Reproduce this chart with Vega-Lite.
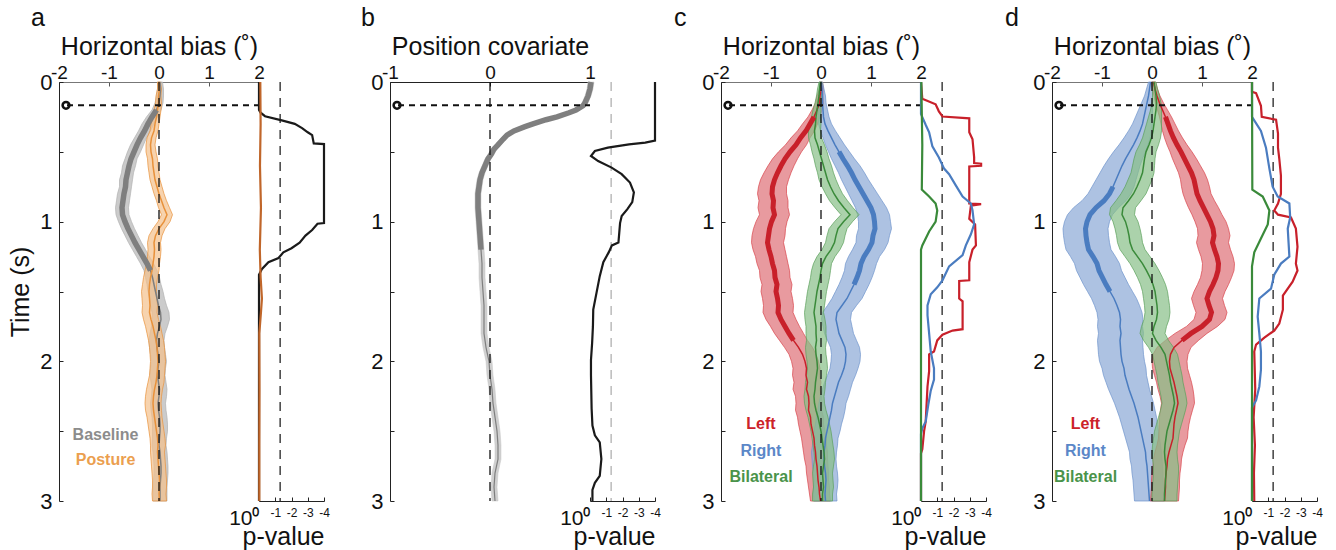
{
"$schema": "https://vega.github.io/schema/vega-lite/v6.json",
"padding": {"left": 8, "top": 6, "right": 5, "bottom": 2},
"spacing": 66,
"bounds": "flush",
"resolve": {"scale": {"x": "independent", "y": "independent"}},
"config": {
  "view": {"stroke": null},
  "font": "Liberation Sans",
  "legend": {"disable": true},
  "axis": {"grid": false, "labelFlush": false, "labelOverlap": false, "labelFont": "Liberation Sans", "titleFont": "Liberation Sans", "labelColor": "#111", "titleColor": "#111", "titleFontWeight": "normal"},
  "title": {"font": "Liberation Sans", "fontWeight": "normal", "fontSize": 25, "color": "#111"},
  "text": {"font": "Liberation Sans"}
},
"datasets": {
"main": [
{"p":"a","s":"B","t":0,"m":0.02,"l":-0.03,"h":0.07,"k":0},
{"p":"a","s":"B","t":0.05,"m":0.03,"l":-0.03,"h":0.09,"k":0},
{"p":"a","s":"B","t":0.1,"m":0.02,"l":-0.05,"h":0.09,"k":0},
{"p":"a","s":"B","t":0.15,"m":0,"l":-0.08,"h":0.08,"k":0},
{"p":"a","s":"B","t":0.2,"m":-0.05,"l":-0.14,"h":0.04,"k":1},
{"p":"a","s":"B","t":0.25,"m":-0.14,"l":-0.25,"h":-0.03,"k":1},
{"p":"a","s":"B","t":0.3,"m":-0.22,"l":-0.34,"h":-0.1,"k":1},
{"p":"a","s":"B","t":0.35,"m":-0.29,"l":-0.41,"h":-0.17,"k":1},
{"p":"a","s":"B","t":0.4,"m":-0.37,"l":-0.49,"h":-0.25,"k":1},
{"p":"a","s":"B","t":0.45,"m":-0.44,"l":-0.57,"h":-0.31,"k":1},
{"p":"a","s":"B","t":0.5,"m":-0.5,"l":-0.63,"h":-0.37,"k":1},
{"p":"a","s":"B","t":0.55,"m":-0.56,"l":-0.68,"h":-0.44,"k":1},
{"p":"a","s":"B","t":0.6,"m":-0.6,"l":-0.73,"h":-0.47,"k":1},
{"p":"a","s":"B","t":0.65,"m":-0.63,"l":-0.75,"h":-0.51,"k":1},
{"p":"a","s":"B","t":0.7,"m":-0.66,"l":-0.79,"h":-0.53,"k":1},
{"p":"a","s":"B","t":0.75,"m":-0.67,"l":-0.79,"h":-0.55,"k":1},
{"p":"a","s":"B","t":0.8,"m":-0.7,"l":-0.83,"h":-0.57,"k":1},
{"p":"a","s":"B","t":0.85,"m":-0.72,"l":-0.85,"h":-0.59,"k":1},
{"p":"a","s":"B","t":0.9,"m":-0.74,"l":-0.87,"h":-0.61,"k":1},
{"p":"a","s":"B","t":0.95,"m":-0.73,"l":-0.86,"h":-0.6,"k":1},
{"p":"a","s":"B","t":1,"m":-0.68,"l":-0.81,"h":-0.55,"k":1},
{"p":"a","s":"B","t":1.05,"m":-0.62,"l":-0.75,"h":-0.49,"k":1},
{"p":"a","s":"B","t":1.1,"m":-0.55,"l":-0.68,"h":-0.42,"k":1},
{"p":"a","s":"B","t":1.15,"m":-0.48,"l":-0.61,"h":-0.35,"k":1},
{"p":"a","s":"B","t":1.2,"m":-0.4,"l":-0.53,"h":-0.27,"k":1},
{"p":"a","s":"B","t":1.25,"m":-0.32,"l":-0.45,"h":-0.19,"k":1},
{"p":"a","s":"B","t":1.3,"m":-0.24,"l":-0.37,"h":-0.11,"k":1},
{"p":"a","s":"B","t":1.35,"m":-0.17,"l":-0.3,"h":-0.04,"k":1},
{"p":"a","s":"B","t":1.4,"m":-0.13,"l":-0.27,"h":0.01,"k":0},
{"p":"a","s":"B","t":1.45,"m":-0.1,"l":-0.24,"h":0.04,"k":0},
{"p":"a","s":"B","t":1.5,"m":-0.07,"l":-0.22,"h":0.08,"k":0},
{"p":"a","s":"B","t":1.55,"m":-0.04,"l":-0.19,"h":0.11,"k":0},
{"p":"a","s":"B","t":1.6,"m":-0.01,"l":-0.17,"h":0.15,"k":0},
{"p":"a","s":"B","t":1.65,"m":0.03,"l":-0.14,"h":0.2,"k":0},
{"p":"a","s":"B","t":1.7,"m":0.04,"l":-0.13,"h":0.21,"k":0},
{"p":"a","s":"B","t":1.75,"m":0.01,"l":-0.15,"h":0.17,"k":0},
{"p":"a","s":"B","t":1.8,"m":-0.03,"l":-0.18,"h":0.12,"k":0},
{"p":"a","s":"B","t":1.85,"m":-0.05,"l":-0.2,"h":0.1,"k":0},
{"p":"a","s":"B","t":1.9,"m":-0.04,"l":-0.19,"h":0.11,"k":0},
{"p":"a","s":"B","t":1.95,"m":-0.02,"l":-0.17,"h":0.13,"k":0},
{"p":"a","s":"B","t":2,"m":0,"l":-0.15,"h":0.15,"k":0},
{"p":"a","s":"B","t":2.05,"m":-0.02,"l":-0.17,"h":0.13,"k":0},
{"p":"a","s":"B","t":2.1,"m":-0.03,"l":-0.18,"h":0.12,"k":0},
{"p":"a","s":"B","t":2.15,"m":-0.01,"l":-0.16,"h":0.14,"k":0},
{"p":"a","s":"B","t":2.2,"m":0.01,"l":-0.14,"h":0.16,"k":0},
{"p":"a","s":"B","t":2.25,"m":0,"l":-0.15,"h":0.15,"k":0},
{"p":"a","s":"B","t":2.3,"m":-0.02,"l":-0.17,"h":0.13,"k":0},
{"p":"a","s":"B","t":2.35,"m":-0.01,"l":-0.16,"h":0.14,"k":0},
{"p":"a","s":"B","t":2.4,"m":0.01,"l":-0.14,"h":0.16,"k":0},
{"p":"a","s":"B","t":2.45,"m":0.02,"l":-0.13,"h":0.17,"k":0},
{"p":"a","s":"B","t":2.5,"m":0.02,"l":-0.13,"h":0.17,"k":0},
{"p":"a","s":"B","t":2.55,"m":0.01,"l":-0.13,"h":0.15,"k":0},
{"p":"a","s":"B","t":2.6,"m":0,"l":-0.14,"h":0.14,"k":0},
{"p":"a","s":"B","t":2.65,"m":0.02,"l":-0.12,"h":0.16,"k":0},
{"p":"a","s":"B","t":2.7,"m":0.03,"l":-0.11,"h":0.17,"k":0},
{"p":"a","s":"B","t":2.75,"m":0.04,"l":-0.1,"h":0.18,"k":0},
{"p":"a","s":"B","t":2.8,"m":0.04,"l":-0.1,"h":0.18,"k":0},
{"p":"a","s":"B","t":2.85,"m":0.03,"l":-0.11,"h":0.17,"k":0},
{"p":"a","s":"B","t":2.9,"m":0.02,"l":-0.12,"h":0.16,"k":0},
{"p":"a","s":"B","t":2.95,"m":0.02,"l":-0.12,"h":0.16,"k":0},
{"p":"a","s":"B","t":3,"m":0.02,"l":-0.12,"h":0.16,"k":0},
{"p":"a","s":"P","t":0,"m":0,"l":-0.03,"h":0.03,"k":0},
{"p":"a","s":"P","t":0.05,"m":0.01,"l":-0.03,"h":0.05,"k":0},
{"p":"a","s":"P","t":0.1,"m":-0.01,"l":-0.06,"h":0.04,"k":0},
{"p":"a","s":"P","t":0.15,"m":-0.01,"l":-0.07,"h":0.05,"k":0},
{"p":"a","s":"P","t":0.2,"m":-0.03,"l":-0.1,"h":0.04,"k":0},
{"p":"a","s":"P","t":0.25,"m":-0.05,"l":-0.12,"h":0.02,"k":0},
{"p":"a","s":"P","t":0.3,"m":-0.08,"l":-0.16,"h":0,"k":0},
{"p":"a","s":"P","t":0.35,"m":-0.1,"l":-0.18,"h":-0.02,"k":0},
{"p":"a","s":"P","t":0.4,"m":-0.15,"l":-0.24,"h":-0.06,"k":0},
{"p":"a","s":"P","t":0.45,"m":-0.17,"l":-0.26,"h":-0.08,"k":0},
{"p":"a","s":"P","t":0.5,"m":-0.16,"l":-0.26,"h":-0.06,"k":0},
{"p":"a","s":"P","t":0.55,"m":-0.13,"l":-0.23,"h":-0.03,"k":0},
{"p":"a","s":"P","t":0.6,"m":-0.12,"l":-0.22,"h":-0.02,"k":0},
{"p":"a","s":"P","t":0.65,"m":-0.1,"l":-0.2,"h":0,"k":0},
{"p":"a","s":"P","t":0.7,"m":-0.08,"l":-0.18,"h":0.02,"k":0},
{"p":"a","s":"P","t":0.75,"m":-0.04,"l":-0.14,"h":0.06,"k":0},
{"p":"a","s":"P","t":0.8,"m":0,"l":-0.1,"h":0.1,"k":0},
{"p":"a","s":"P","t":0.85,"m":0.05,"l":-0.05,"h":0.15,"k":0},
{"p":"a","s":"P","t":0.9,"m":0.1,"l":-0.01,"h":0.21,"k":0},
{"p":"a","s":"P","t":0.95,"m":0.16,"l":0.05,"h":0.27,"k":0},
{"p":"a","s":"P","t":1,"m":0.1,"l":-0.02,"h":0.22,"k":0},
{"p":"a","s":"P","t":1.05,"m":0,"l":-0.12,"h":0.12,"k":0},
{"p":"a","s":"P","t":1.1,"m":-0.07,"l":-0.2,"h":0.06,"k":0},
{"p":"a","s":"P","t":1.15,"m":-0.1,"l":-0.23,"h":0.03,"k":0},
{"p":"a","s":"P","t":1.2,"m":-0.09,"l":-0.22,"h":0.04,"k":0},
{"p":"a","s":"P","t":1.25,"m":-0.1,"l":-0.23,"h":0.03,"k":0},
{"p":"a","s":"P","t":1.3,"m":-0.12,"l":-0.25,"h":0.01,"k":0},
{"p":"a","s":"P","t":1.35,"m":-0.14,"l":-0.28,"h":0,"k":0},
{"p":"a","s":"P","t":1.4,"m":-0.17,"l":-0.31,"h":-0.03,"k":0},
{"p":"a","s":"P","t":1.45,"m":-0.19,"l":-0.33,"h":-0.05,"k":0},
{"p":"a","s":"P","t":1.5,"m":-0.2,"l":-0.35,"h":-0.05,"k":0},
{"p":"a","s":"P","t":1.55,"m":-0.19,"l":-0.34,"h":-0.04,"k":0},
{"p":"a","s":"P","t":1.6,"m":-0.18,"l":-0.33,"h":-0.03,"k":0},
{"p":"a","s":"P","t":1.65,"m":-0.19,"l":-0.34,"h":-0.04,"k":0},
{"p":"a","s":"P","t":1.7,"m":-0.16,"l":-0.31,"h":-0.01,"k":0},
{"p":"a","s":"P","t":1.75,"m":-0.12,"l":-0.27,"h":0.03,"k":0},
{"p":"a","s":"P","t":1.8,"m":-0.09,"l":-0.24,"h":0.06,"k":0},
{"p":"a","s":"P","t":1.85,"m":-0.06,"l":-0.21,"h":0.09,"k":0},
{"p":"a","s":"P","t":1.9,"m":-0.04,"l":-0.19,"h":0.11,"k":0},
{"p":"a","s":"P","t":1.95,"m":-0.03,"l":-0.18,"h":0.12,"k":0},
{"p":"a","s":"P","t":2,"m":-0.02,"l":-0.17,"h":0.13,"k":0},
{"p":"a","s":"P","t":2.05,"m":-0.03,"l":-0.18,"h":0.12,"k":0},
{"p":"a","s":"P","t":2.1,"m":-0.04,"l":-0.19,"h":0.11,"k":0},
{"p":"a","s":"P","t":2.15,"m":-0.06,"l":-0.22,"h":0.1,"k":0},
{"p":"a","s":"P","t":2.2,"m":-0.09,"l":-0.25,"h":0.07,"k":0},
{"p":"a","s":"P","t":2.25,"m":-0.11,"l":-0.27,"h":0.05,"k":0},
{"p":"a","s":"P","t":2.3,"m":-0.12,"l":-0.28,"h":0.04,"k":0},
{"p":"a","s":"P","t":2.35,"m":-0.11,"l":-0.27,"h":0.05,"k":0},
{"p":"a","s":"P","t":2.4,"m":-0.09,"l":-0.24,"h":0.06,"k":0},
{"p":"a","s":"P","t":2.45,"m":-0.07,"l":-0.22,"h":0.08,"k":0},
{"p":"a","s":"P","t":2.5,"m":-0.05,"l":-0.2,"h":0.1,"k":0},
{"p":"a","s":"P","t":2.55,"m":-0.03,"l":-0.18,"h":0.12,"k":0},
{"p":"a","s":"P","t":2.6,"m":-0.02,"l":-0.17,"h":0.13,"k":0},
{"p":"a","s":"P","t":2.65,"m":-0.03,"l":-0.17,"h":0.11,"k":0},
{"p":"a","s":"P","t":2.7,"m":-0.02,"l":-0.16,"h":0.12,"k":0},
{"p":"a","s":"P","t":2.75,"m":-0.01,"l":-0.15,"h":0.13,"k":0},
{"p":"a","s":"P","t":2.8,"m":0,"l":-0.14,"h":0.14,"k":0},
{"p":"a","s":"P","t":2.85,"m":0.01,"l":-0.13,"h":0.15,"k":0},
{"p":"a","s":"P","t":2.9,"m":0.01,"l":-0.13,"h":0.15,"k":0},
{"p":"a","s":"P","t":2.95,"m":0,"l":-0.14,"h":0.14,"k":0},
{"p":"a","s":"P","t":3,"m":0.01,"l":-0.13,"h":0.15,"k":0},
{"p":"b","s":"C","t":0,"m":1.01,"l":0.98,"h":1.04,"k":1},
{"p":"b","s":"C","t":0.05,"m":1,"l":0.97,"h":1.03,"k":1},
{"p":"b","s":"C","t":0.1,"m":0.98,"l":0.95,"h":1.01,"k":1},
{"p":"b","s":"C","t":0.15,"m":0.95,"l":0.92,"h":0.98,"k":1},
{"p":"b","s":"C","t":0.17,"m":0.93,"l":0.9,"h":0.96,"k":1},
{"p":"b","s":"C","t":0.2,"m":0.86,"l":0.83,"h":0.89,"k":1},
{"p":"b","s":"C","t":0.22,"m":0.79,"l":0.76,"h":0.82,"k":1},
{"p":"b","s":"C","t":0.25,"m":0.67,"l":0.64,"h":0.7,"k":1},
{"p":"b","s":"C","t":0.27,"m":0.56,"l":0.53,"h":0.59,"k":1},
{"p":"b","s":"C","t":0.3,"m":0.43,"l":0.4,"h":0.46,"k":1},
{"p":"b","s":"C","t":0.32,"m":0.35,"l":0.32,"h":0.38,"k":1},
{"p":"b","s":"C","t":0.35,"m":0.24,"l":0.21,"h":0.27,"k":1},
{"p":"b","s":"C","t":0.38,"m":0.17,"l":0.14,"h":0.2,"k":1},
{"p":"b","s":"C","t":0.41,"m":0.13,"l":0.1,"h":0.16,"k":1},
{"p":"b","s":"C","t":0.45,"m":0.08,"l":0.05,"h":0.11,"k":1},
{"p":"b","s":"C","t":0.48,"m":0.04,"l":0.01,"h":0.07,"k":1},
{"p":"b","s":"C","t":0.52,"m":0.01,"l":-0.02,"h":0.04,"k":1},
{"p":"b","s":"C","t":0.55,"m":-0.02,"l":-0.05,"h":0.01,"k":1},
{"p":"b","s":"C","t":0.6,"m":-0.05,"l":-0.08,"h":-0.02,"k":1},
{"p":"b","s":"C","t":0.65,"m":-0.08,"l":-0.11,"h":-0.05,"k":1},
{"p":"b","s":"C","t":0.7,"m":-0.1,"l":-0.13,"h":-0.07,"k":1},
{"p":"b","s":"C","t":0.75,"m":-0.11,"l":-0.14,"h":-0.08,"k":1},
{"p":"b","s":"C","t":0.8,"m":-0.12,"l":-0.15,"h":-0.09,"k":1},
{"p":"b","s":"C","t":0.9,"m":-0.12,"l":-0.15,"h":-0.09,"k":1},
{"p":"b","s":"C","t":1,"m":-0.11,"l":-0.14,"h":-0.08,"k":1},
{"p":"b","s":"C","t":1.1,"m":-0.1,"l":-0.13,"h":-0.07,"k":1},
{"p":"b","s":"C","t":1.2,"m":-0.09,"l":-0.12,"h":-0.06,"k":1},
{"p":"b","s":"C","t":1.3,"m":-0.08,"l":-0.11,"h":-0.05,"k":0},
{"p":"b","s":"C","t":1.4,"m":-0.08,"l":-0.11,"h":-0.05,"k":0},
{"p":"b","s":"C","t":1.5,"m":-0.07,"l":-0.1,"h":-0.04,"k":0},
{"p":"b","s":"C","t":1.6,"m":-0.06,"l":-0.09,"h":-0.03,"k":0},
{"p":"b","s":"C","t":1.7,"m":-0.06,"l":-0.09,"h":-0.03,"k":0},
{"p":"b","s":"C","t":1.8,"m":-0.06,"l":-0.09,"h":-0.03,"k":0},
{"p":"b","s":"C","t":1.9,"m":-0.04,"l":-0.07,"h":-0.01,"k":0},
{"p":"b","s":"C","t":2,"m":-0.01,"l":-0.04,"h":0.02,"k":0},
{"p":"b","s":"C","t":2.1,"m":0,"l":-0.03,"h":0.03,"k":0},
{"p":"b","s":"C","t":2.2,"m":0.02,"l":-0.01,"h":0.05,"k":0},
{"p":"b","s":"C","t":2.3,"m":0.03,"l":0,"h":0.06,"k":0},
{"p":"b","s":"C","t":2.4,"m":0.05,"l":0.02,"h":0.08,"k":0},
{"p":"b","s":"C","t":2.5,"m":0.07,"l":0.04,"h":0.1,"k":0},
{"p":"b","s":"C","t":2.6,"m":0.08,"l":0.05,"h":0.11,"k":0},
{"p":"b","s":"C","t":2.7,"m":0.08,"l":0.05,"h":0.11,"k":0},
{"p":"b","s":"C","t":2.8,"m":0.05,"l":0.02,"h":0.08,"k":0},
{"p":"b","s":"C","t":2.9,"m":0.04,"l":0.01,"h":0.07,"k":0},
{"p":"b","s":"C","t":3,"m":0.05,"l":0.02,"h":0.08,"k":0},
{"p":"c","s":"L","t":0,"m":0,"l":-0.03,"h":0.03,"k":0},
{"p":"c","s":"L","t":0.05,"m":0.01,"l":-0.03,"h":0.05,"k":0},
{"p":"c","s":"L","t":0.1,"m":-0.02,"l":-0.08,"h":0.04,"k":0},
{"p":"c","s":"L","t":0.15,"m":-0.03,"l":-0.11,"h":0.05,"k":0},
{"p":"c","s":"L","t":0.2,"m":-0.08,"l":-0.18,"h":0.02,"k":0},
{"p":"c","s":"L","t":0.25,"m":-0.14,"l":-0.26,"h":-0.02,"k":1},
{"p":"c","s":"L","t":0.3,"m":-0.22,"l":-0.37,"h":-0.07,"k":1},
{"p":"c","s":"L","t":0.35,"m":-0.3,"l":-0.47,"h":-0.13,"k":1},
{"p":"c","s":"L","t":0.4,"m":-0.41,"l":-0.6,"h":-0.22,"k":1},
{"p":"c","s":"L","t":0.45,"m":-0.5,"l":-0.71,"h":-0.29,"k":1},
{"p":"c","s":"L","t":0.5,"m":-0.62,"l":-0.85,"h":-0.39,"k":1},
{"p":"c","s":"L","t":0.55,"m":-0.72,"l":-0.97,"h":-0.47,"k":1},
{"p":"c","s":"L","t":0.6,"m":-0.8,"l":-1.06,"h":-0.54,"k":1},
{"p":"c","s":"L","t":0.65,"m":-0.87,"l":-1.14,"h":-0.6,"k":1},
{"p":"c","s":"L","t":0.7,"m":-0.93,"l":-1.21,"h":-0.65,"k":1},
{"p":"c","s":"L","t":0.75,"m":-0.97,"l":-1.25,"h":-0.69,"k":1},
{"p":"c","s":"L","t":0.8,"m":-0.98,"l":-1.27,"h":-0.69,"k":1},
{"p":"c","s":"L","t":0.85,"m":-0.95,"l":-1.24,"h":-0.66,"k":1},
{"p":"c","s":"L","t":0.9,"m":-0.96,"l":-1.26,"h":-0.66,"k":1},
{"p":"c","s":"L","t":0.95,"m":-0.93,"l":-1.23,"h":-0.63,"k":1},
{"p":"c","s":"L","t":1,"m":-0.99,"l":-1.3,"h":-0.68,"k":1},
{"p":"c","s":"L","t":1.05,"m":-1.03,"l":-1.35,"h":-0.71,"k":1},
{"p":"c","s":"L","t":1.1,"m":-1.05,"l":-1.38,"h":-0.72,"k":1},
{"p":"c","s":"L","t":1.15,"m":-1.07,"l":-1.39,"h":-0.75,"k":1},
{"p":"c","s":"L","t":1.2,"m":-1.04,"l":-1.36,"h":-0.72,"k":1},
{"p":"c","s":"L","t":1.25,"m":-1,"l":-1.31,"h":-0.69,"k":1},
{"p":"c","s":"L","t":1.3,"m":-0.97,"l":-1.28,"h":-0.66,"k":1},
{"p":"c","s":"L","t":1.35,"m":-0.93,"l":-1.23,"h":-0.63,"k":1},
{"p":"c","s":"L","t":1.4,"m":-0.92,"l":-1.22,"h":-0.62,"k":1},
{"p":"c","s":"L","t":1.45,"m":-0.88,"l":-1.18,"h":-0.58,"k":1},
{"p":"c","s":"L","t":1.5,"m":-0.9,"l":-1.2,"h":-0.6,"k":1},
{"p":"c","s":"L","t":1.55,"m":-0.87,"l":-1.17,"h":-0.57,"k":1},
{"p":"c","s":"L","t":1.6,"m":-0.85,"l":-1.15,"h":-0.55,"k":1},
{"p":"c","s":"L","t":1.65,"m":-0.86,"l":-1.16,"h":-0.56,"k":1},
{"p":"c","s":"L","t":1.7,"m":-0.8,"l":-1.1,"h":-0.5,"k":1},
{"p":"c","s":"L","t":1.75,"m":-0.72,"l":-1.01,"h":-0.43,"k":1},
{"p":"c","s":"L","t":1.8,"m":-0.64,"l":-0.93,"h":-0.35,"k":1},
{"p":"c","s":"L","t":1.85,"m":-0.55,"l":-0.83,"h":-0.27,"k":1},
{"p":"c","s":"L","t":1.9,"m":-0.45,"l":-0.73,"h":-0.17,"k":0},
{"p":"c","s":"L","t":1.95,"m":-0.37,"l":-0.64,"h":-0.1,"k":0},
{"p":"c","s":"L","t":2,"m":-0.32,"l":-0.59,"h":-0.05,"k":0},
{"p":"c","s":"L","t":2.05,"m":-0.29,"l":-0.56,"h":-0.02,"k":0},
{"p":"c","s":"L","t":2.1,"m":-0.3,"l":-0.57,"h":-0.03,"k":0},
{"p":"c","s":"L","t":2.15,"m":-0.27,"l":-0.54,"h":0,"k":0},
{"p":"c","s":"L","t":2.2,"m":-0.29,"l":-0.56,"h":-0.02,"k":0},
{"p":"c","s":"L","t":2.25,"m":-0.25,"l":-0.51,"h":0.01,"k":0},
{"p":"c","s":"L","t":2.3,"m":-0.24,"l":-0.5,"h":0.02,"k":0},
{"p":"c","s":"L","t":2.35,"m":-0.25,"l":-0.51,"h":0.01,"k":0},
{"p":"c","s":"L","t":2.4,"m":-0.21,"l":-0.47,"h":0.05,"k":0},
{"p":"c","s":"L","t":2.45,"m":-0.2,"l":-0.45,"h":0.05,"k":0},
{"p":"c","s":"L","t":2.5,"m":-0.17,"l":-0.42,"h":0.08,"k":0},
{"p":"c","s":"L","t":2.55,"m":-0.14,"l":-0.39,"h":0.11,"k":0},
{"p":"c","s":"L","t":2.6,"m":-0.13,"l":-0.37,"h":0.11,"k":0},
{"p":"c","s":"L","t":2.65,"m":-0.11,"l":-0.35,"h":0.13,"k":0},
{"p":"c","s":"L","t":2.7,"m":-0.1,"l":-0.33,"h":0.13,"k":0},
{"p":"c","s":"L","t":2.75,"m":-0.08,"l":-0.3,"h":0.14,"k":0},
{"p":"c","s":"L","t":2.8,"m":-0.07,"l":-0.29,"h":0.15,"k":0},
{"p":"c","s":"L","t":2.85,"m":-0.06,"l":-0.27,"h":0.15,"k":0},
{"p":"c","s":"L","t":2.9,"m":-0.04,"l":-0.25,"h":0.17,"k":0},
{"p":"c","s":"L","t":2.95,"m":-0.03,"l":-0.23,"h":0.17,"k":0},
{"p":"c","s":"L","t":3,"m":-0.01,"l":-0.21,"h":0.19,"k":0},
{"p":"c","s":"R","t":0,"m":0,"l":-0.03,"h":0.03,"k":0},
{"p":"c","s":"R","t":0.05,"m":0.02,"l":-0.02,"h":0.06,"k":0},
{"p":"c","s":"R","t":0.1,"m":0.03,"l":-0.03,"h":0.09,"k":0},
{"p":"c","s":"R","t":0.15,"m":0.03,"l":-0.04,"h":0.1,"k":0},
{"p":"c","s":"R","t":0.2,"m":0.04,"l":-0.05,"h":0.13,"k":0},
{"p":"c","s":"R","t":0.25,"m":0.05,"l":-0.06,"h":0.16,"k":0},
{"p":"c","s":"R","t":0.3,"m":0.08,"l":-0.05,"h":0.21,"k":0},
{"p":"c","s":"R","t":0.35,"m":0.14,"l":-0.01,"h":0.29,"k":0},
{"p":"c","s":"R","t":0.4,"m":0.21,"l":0.04,"h":0.38,"k":0},
{"p":"c","s":"R","t":0.45,"m":0.28,"l":0.09,"h":0.47,"k":0},
{"p":"c","s":"R","t":0.5,"m":0.36,"l":0.15,"h":0.57,"k":1},
{"p":"c","s":"R","t":0.55,"m":0.44,"l":0.21,"h":0.67,"k":1},
{"p":"c","s":"R","t":0.6,"m":0.53,"l":0.28,"h":0.78,"k":1},
{"p":"c","s":"R","t":0.65,"m":0.61,"l":0.35,"h":0.87,"k":1},
{"p":"c","s":"R","t":0.7,"m":0.68,"l":0.41,"h":0.95,"k":1},
{"p":"c","s":"R","t":0.75,"m":0.76,"l":0.48,"h":1.04,"k":1},
{"p":"c","s":"R","t":0.8,"m":0.84,"l":0.55,"h":1.13,"k":1},
{"p":"c","s":"R","t":0.85,"m":0.92,"l":0.62,"h":1.22,"k":1},
{"p":"c","s":"R","t":0.9,"m":1,"l":0.69,"h":1.31,"k":1},
{"p":"c","s":"R","t":0.95,"m":1.05,"l":0.73,"h":1.37,"k":1},
{"p":"c","s":"R","t":1,"m":1.07,"l":0.75,"h":1.39,"k":1},
{"p":"c","s":"R","t":1.05,"m":1.08,"l":0.75,"h":1.41,"k":1},
{"p":"c","s":"R","t":1.1,"m":1.04,"l":0.71,"h":1.37,"k":1},
{"p":"c","s":"R","t":1.15,"m":1.02,"l":0.7,"h":1.34,"k":1},
{"p":"c","s":"R","t":1.2,"m":0.95,"l":0.63,"h":1.27,"k":1},
{"p":"c","s":"R","t":1.25,"m":0.86,"l":0.55,"h":1.17,"k":1},
{"p":"c","s":"R","t":1.3,"m":0.8,"l":0.49,"h":1.11,"k":1},
{"p":"c","s":"R","t":1.35,"m":0.77,"l":0.47,"h":1.07,"k":1},
{"p":"c","s":"R","t":1.4,"m":0.72,"l":0.42,"h":1.02,"k":1},
{"p":"c","s":"R","t":1.45,"m":0.66,"l":0.36,"h":0.96,"k":1},
{"p":"c","s":"R","t":1.5,"m":0.59,"l":0.29,"h":0.89,"k":0},
{"p":"c","s":"R","t":1.55,"m":0.52,"l":0.22,"h":0.82,"k":0},
{"p":"c","s":"R","t":1.6,"m":0.42,"l":0.13,"h":0.71,"k":0},
{"p":"c","s":"R","t":1.65,"m":0.32,"l":0.03,"h":0.61,"k":0},
{"p":"c","s":"R","t":1.7,"m":0.3,"l":0.01,"h":0.59,"k":0},
{"p":"c","s":"R","t":1.75,"m":0.33,"l":0.04,"h":0.62,"k":0},
{"p":"c","s":"R","t":1.8,"m":0.36,"l":0.07,"h":0.65,"k":0},
{"p":"c","s":"R","t":1.85,"m":0.42,"l":0.13,"h":0.71,"k":0},
{"p":"c","s":"R","t":1.9,"m":0.48,"l":0.19,"h":0.77,"k":0},
{"p":"c","s":"R","t":1.95,"m":0.5,"l":0.21,"h":0.79,"k":0},
{"p":"c","s":"R","t":2,"m":0.49,"l":0.2,"h":0.78,"k":0},
{"p":"c","s":"R","t":2.05,"m":0.46,"l":0.18,"h":0.74,"k":0},
{"p":"c","s":"R","t":2.1,"m":0.41,"l":0.13,"h":0.69,"k":0},
{"p":"c","s":"R","t":2.15,"m":0.35,"l":0.07,"h":0.63,"k":0},
{"p":"c","s":"R","t":2.2,"m":0.31,"l":0.03,"h":0.59,"k":0},
{"p":"c","s":"R","t":2.25,"m":0.27,"l":-0.01,"h":0.55,"k":0},
{"p":"c","s":"R","t":2.3,"m":0.23,"l":-0.04,"h":0.5,"k":0},
{"p":"c","s":"R","t":2.35,"m":0.21,"l":-0.06,"h":0.48,"k":0},
{"p":"c","s":"R","t":2.4,"m":0.18,"l":-0.09,"h":0.45,"k":0},
{"p":"c","s":"R","t":2.45,"m":0.15,"l":-0.11,"h":0.41,"k":0},
{"p":"c","s":"R","t":2.5,"m":0.12,"l":-0.14,"h":0.38,"k":0},
{"p":"c","s":"R","t":2.55,"m":0.09,"l":-0.16,"h":0.34,"k":0},
{"p":"c","s":"R","t":2.6,"m":0.08,"l":-0.17,"h":0.33,"k":0},
{"p":"c","s":"R","t":2.65,"m":0.06,"l":-0.19,"h":0.31,"k":0},
{"p":"c","s":"R","t":2.7,"m":0.06,"l":-0.18,"h":0.3,"k":0},
{"p":"c","s":"R","t":2.75,"m":0.07,"l":-0.17,"h":0.31,"k":0},
{"p":"c","s":"R","t":2.8,"m":0.09,"l":-0.15,"h":0.33,"k":0},
{"p":"c","s":"R","t":2.85,"m":0.1,"l":-0.14,"h":0.34,"k":0},
{"p":"c","s":"R","t":2.9,"m":0.09,"l":-0.15,"h":0.33,"k":0},
{"p":"c","s":"R","t":2.95,"m":0.08,"l":-0.15,"h":0.31,"k":0},
{"p":"c","s":"R","t":3,"m":0.09,"l":-0.14,"h":0.32,"k":0},
{"p":"c","s":"G","t":0,"m":-0.01,"l":-0.04,"h":0.02,"k":0},
{"p":"c","s":"G","t":0.05,"m":-0.03,"l":-0.07,"h":0.01,"k":0},
{"p":"c","s":"G","t":0.1,"m":-0.04,"l":-0.09,"h":0.01,"k":0},
{"p":"c","s":"G","t":0.15,"m":-0.06,"l":-0.12,"h":0,"k":0},
{"p":"c","s":"G","t":0.2,"m":-0.08,"l":-0.16,"h":0,"k":0},
{"p":"c","s":"G","t":0.25,"m":-0.1,"l":-0.19,"h":-0.01,"k":0},
{"p":"c","s":"G","t":0.3,"m":-0.11,"l":-0.22,"h":0,"k":0},
{"p":"c","s":"G","t":0.35,"m":-0.13,"l":-0.25,"h":-0.01,"k":0},
{"p":"c","s":"G","t":0.4,"m":-0.12,"l":-0.25,"h":0.01,"k":0},
{"p":"c","s":"G","t":0.45,"m":-0.07,"l":-0.21,"h":0.07,"k":0},
{"p":"c","s":"G","t":0.5,"m":-0.03,"l":-0.18,"h":0.12,"k":0},
{"p":"c","s":"G","t":0.55,"m":0.01,"l":-0.14,"h":0.16,"k":0},
{"p":"c","s":"G","t":0.6,"m":0.05,"l":-0.11,"h":0.21,"k":0},
{"p":"c","s":"G","t":0.65,"m":0.09,"l":-0.07,"h":0.25,"k":0},
{"p":"c","s":"G","t":0.7,"m":0.13,"l":-0.04,"h":0.3,"k":0},
{"p":"c","s":"G","t":0.75,"m":0.19,"l":0.02,"h":0.36,"k":0},
{"p":"c","s":"G","t":0.8,"m":0.26,"l":0.09,"h":0.43,"k":0},
{"p":"c","s":"G","t":0.85,"m":0.35,"l":0.17,"h":0.53,"k":0},
{"p":"c","s":"G","t":0.9,"m":0.46,"l":0.28,"h":0.64,"k":0},
{"p":"c","s":"G","t":0.95,"m":0.58,"l":0.4,"h":0.76,"k":0},
{"p":"c","s":"G","t":1,"m":0.45,"l":0.27,"h":0.63,"k":0},
{"p":"c","s":"G","t":1.05,"m":0.34,"l":0.16,"h":0.52,"k":0},
{"p":"c","s":"G","t":1.1,"m":0.3,"l":0.12,"h":0.48,"k":0},
{"p":"c","s":"G","t":1.15,"m":0.27,"l":0.09,"h":0.45,"k":0},
{"p":"c","s":"G","t":1.2,"m":0.2,"l":0.02,"h":0.38,"k":0},
{"p":"c","s":"G","t":1.25,"m":0.1,"l":-0.08,"h":0.28,"k":0},
{"p":"c","s":"G","t":1.3,"m":0.03,"l":-0.15,"h":0.21,"k":0},
{"p":"c","s":"G","t":1.35,"m":0,"l":-0.19,"h":0.19,"k":0},
{"p":"c","s":"G","t":1.4,"m":-0.02,"l":-0.21,"h":0.17,"k":0},
{"p":"c","s":"G","t":1.45,"m":-0.05,"l":-0.24,"h":0.14,"k":0},
{"p":"c","s":"G","t":1.5,"m":-0.08,"l":-0.27,"h":0.11,"k":0},
{"p":"c","s":"G","t":1.55,"m":-0.1,"l":-0.29,"h":0.09,"k":0},
{"p":"c","s":"G","t":1.6,"m":-0.12,"l":-0.31,"h":0.07,"k":0},
{"p":"c","s":"G","t":1.65,"m":-0.14,"l":-0.33,"h":0.05,"k":0},
{"p":"c","s":"G","t":1.7,"m":-0.12,"l":-0.32,"h":0.08,"k":0},
{"p":"c","s":"G","t":1.75,"m":-0.1,"l":-0.3,"h":0.1,"k":0},
{"p":"c","s":"G","t":1.8,"m":-0.1,"l":-0.3,"h":0.1,"k":0},
{"p":"c","s":"G","t":1.85,"m":-0.09,"l":-0.29,"h":0.11,"k":0},
{"p":"c","s":"G","t":1.9,"m":-0.11,"l":-0.31,"h":0.09,"k":0},
{"p":"c","s":"G","t":1.95,"m":-0.1,"l":-0.3,"h":0.1,"k":0},
{"p":"c","s":"G","t":2,"m":-0.08,"l":-0.28,"h":0.12,"k":0},
{"p":"c","s":"G","t":2.05,"m":-0.07,"l":-0.27,"h":0.13,"k":0},
{"p":"c","s":"G","t":2.1,"m":-0.09,"l":-0.29,"h":0.11,"k":0},
{"p":"c","s":"G","t":2.15,"m":-0.11,"l":-0.31,"h":0.09,"k":0},
{"p":"c","s":"G","t":2.2,"m":-0.12,"l":-0.32,"h":0.08,"k":0},
{"p":"c","s":"G","t":2.25,"m":-0.14,"l":-0.34,"h":0.06,"k":0},
{"p":"c","s":"G","t":2.3,"m":-0.13,"l":-0.33,"h":0.07,"k":0},
{"p":"c","s":"G","t":2.35,"m":-0.1,"l":-0.3,"h":0.1,"k":0},
{"p":"c","s":"G","t":2.4,"m":-0.06,"l":-0.26,"h":0.14,"k":0},
{"p":"c","s":"G","t":2.45,"m":-0.03,"l":-0.23,"h":0.17,"k":0},
{"p":"c","s":"G","t":2.5,"m":0,"l":-0.2,"h":0.2,"k":0},
{"p":"c","s":"G","t":2.55,"m":0.02,"l":-0.18,"h":0.22,"k":0},
{"p":"c","s":"G","t":2.6,"m":0.04,"l":-0.16,"h":0.24,"k":0},
{"p":"c","s":"G","t":2.65,"m":0.06,"l":-0.14,"h":0.26,"k":0},
{"p":"c","s":"G","t":2.7,"m":0.07,"l":-0.13,"h":0.27,"k":0},
{"p":"c","s":"G","t":2.75,"m":0.05,"l":-0.15,"h":0.25,"k":0},
{"p":"c","s":"G","t":2.8,"m":0.03,"l":-0.17,"h":0.23,"k":0},
{"p":"c","s":"G","t":2.85,"m":0.04,"l":-0.16,"h":0.24,"k":0},
{"p":"c","s":"G","t":2.9,"m":0.05,"l":-0.15,"h":0.25,"k":0},
{"p":"c","s":"G","t":2.95,"m":0.03,"l":-0.17,"h":0.23,"k":0},
{"p":"c","s":"G","t":3,"m":0.03,"l":-0.17,"h":0.23,"k":0},
{"p":"d","s":"R","t":0,"m":-0.03,"l":-0.07,"h":0.01,"k":0},
{"p":"d","s":"R","t":0.05,"m":-0.05,"l":-0.11,"h":0.01,"k":0},
{"p":"d","s":"R","t":0.1,"m":-0.07,"l":-0.15,"h":0.01,"k":0},
{"p":"d","s":"R","t":0.15,"m":-0.1,"l":-0.21,"h":0.01,"k":0},
{"p":"d","s":"R","t":0.2,"m":-0.13,"l":-0.27,"h":0.01,"k":0},
{"p":"d","s":"R","t":0.25,"m":-0.16,"l":-0.33,"h":0.01,"k":0},
{"p":"d","s":"R","t":0.3,"m":-0.19,"l":-0.39,"h":0.01,"k":0},
{"p":"d","s":"R","t":0.35,"m":-0.24,"l":-0.47,"h":-0.01,"k":0},
{"p":"d","s":"R","t":0.4,"m":-0.3,"l":-0.56,"h":-0.04,"k":0},
{"p":"d","s":"R","t":0.45,"m":-0.37,"l":-0.66,"h":-0.08,"k":0},
{"p":"d","s":"R","t":0.5,"m":-0.45,"l":-0.77,"h":-0.13,"k":0},
{"p":"d","s":"R","t":0.55,"m":-0.53,"l":-0.87,"h":-0.19,"k":0},
{"p":"d","s":"R","t":0.6,"m":-0.6,"l":-0.96,"h":-0.24,"k":0},
{"p":"d","s":"R","t":0.65,"m":-0.66,"l":-1.04,"h":-0.28,"k":0},
{"p":"d","s":"R","t":0.7,"m":-0.72,"l":-1.12,"h":-0.32,"k":0},
{"p":"d","s":"R","t":0.75,"m":-0.78,"l":-1.2,"h":-0.36,"k":1},
{"p":"d","s":"R","t":0.8,"m":-0.85,"l":-1.28,"h":-0.42,"k":1},
{"p":"d","s":"R","t":0.85,"m":-0.96,"l":-1.4,"h":-0.52,"k":1},
{"p":"d","s":"R","t":0.9,"m":-1.12,"l":-1.57,"h":-0.67,"k":1},
{"p":"d","s":"R","t":0.95,"m":-1.24,"l":-1.69,"h":-0.79,"k":1},
{"p":"d","s":"R","t":1,"m":-1.3,"l":-1.75,"h":-0.85,"k":1},
{"p":"d","s":"R","t":1.05,"m":-1.33,"l":-1.78,"h":-0.88,"k":1},
{"p":"d","s":"R","t":1.1,"m":-1.32,"l":-1.77,"h":-0.87,"k":1},
{"p":"d","s":"R","t":1.15,"m":-1.3,"l":-1.75,"h":-0.85,"k":1},
{"p":"d","s":"R","t":1.2,"m":-1.27,"l":-1.72,"h":-0.82,"k":1},
{"p":"d","s":"R","t":1.25,"m":-1.18,"l":-1.63,"h":-0.73,"k":1},
{"p":"d","s":"R","t":1.3,"m":-1.1,"l":-1.55,"h":-0.65,"k":1},
{"p":"d","s":"R","t":1.35,"m":-1.06,"l":-1.51,"h":-0.61,"k":1},
{"p":"d","s":"R","t":1.4,"m":-0.99,"l":-1.44,"h":-0.54,"k":1},
{"p":"d","s":"R","t":1.45,"m":-0.92,"l":-1.37,"h":-0.47,"k":1},
{"p":"d","s":"R","t":1.5,"m":-0.84,"l":-1.29,"h":-0.39,"k":1},
{"p":"d","s":"R","t":1.55,"m":-0.76,"l":-1.21,"h":-0.31,"k":0},
{"p":"d","s":"R","t":1.6,"m":-0.7,"l":-1.15,"h":-0.25,"k":0},
{"p":"d","s":"R","t":1.65,"m":-0.65,"l":-1.1,"h":-0.2,"k":0},
{"p":"d","s":"R","t":1.7,"m":-0.63,"l":-1.08,"h":-0.18,"k":0},
{"p":"d","s":"R","t":1.75,"m":-0.64,"l":-1.09,"h":-0.19,"k":0},
{"p":"d","s":"R","t":1.8,"m":-0.62,"l":-1.07,"h":-0.17,"k":0},
{"p":"d","s":"R","t":1.85,"m":-0.64,"l":-1.09,"h":-0.19,"k":0},
{"p":"d","s":"R","t":1.9,"m":-0.63,"l":-1.08,"h":-0.18,"k":0},
{"p":"d","s":"R","t":1.95,"m":-0.62,"l":-1.07,"h":-0.17,"k":0},
{"p":"d","s":"R","t":2,"m":-0.6,"l":-1.05,"h":-0.15,"k":0},
{"p":"d","s":"R","t":2.05,"m":-0.56,"l":-1,"h":-0.12,"k":0},
{"p":"d","s":"R","t":2.1,"m":-0.54,"l":-0.97,"h":-0.11,"k":0},
{"p":"d","s":"R","t":2.15,"m":-0.5,"l":-0.92,"h":-0.08,"k":0},
{"p":"d","s":"R","t":2.2,"m":-0.46,"l":-0.87,"h":-0.05,"k":0},
{"p":"d","s":"R","t":2.25,"m":-0.41,"l":-0.81,"h":-0.01,"k":0},
{"p":"d","s":"R","t":2.3,"m":-0.36,"l":-0.75,"h":0.03,"k":0},
{"p":"d","s":"R","t":2.35,"m":-0.32,"l":-0.7,"h":0.06,"k":0},
{"p":"d","s":"R","t":2.4,"m":-0.28,"l":-0.65,"h":0.09,"k":0},
{"p":"d","s":"R","t":2.45,"m":-0.25,"l":-0.61,"h":0.11,"k":0},
{"p":"d","s":"R","t":2.5,"m":-0.22,"l":-0.57,"h":0.13,"k":0},
{"p":"d","s":"R","t":2.55,"m":-0.19,"l":-0.53,"h":0.15,"k":0},
{"p":"d","s":"R","t":2.6,"m":-0.16,"l":-0.49,"h":0.17,"k":0},
{"p":"d","s":"R","t":2.65,"m":-0.13,"l":-0.45,"h":0.19,"k":0},
{"p":"d","s":"R","t":2.7,"m":-0.12,"l":-0.44,"h":0.2,"k":0},
{"p":"d","s":"R","t":2.75,"m":-0.1,"l":-0.41,"h":0.21,"k":0},
{"p":"d","s":"R","t":2.8,"m":-0.09,"l":-0.4,"h":0.22,"k":0},
{"p":"d","s":"R","t":2.85,"m":-0.08,"l":-0.38,"h":0.22,"k":0},
{"p":"d","s":"R","t":2.9,"m":-0.07,"l":-0.37,"h":0.23,"k":0},
{"p":"d","s":"R","t":2.95,"m":-0.06,"l":-0.36,"h":0.24,"k":0},
{"p":"d","s":"R","t":3,"m":-0.05,"l":-0.35,"h":0.25,"k":0},
{"p":"d","s":"L","t":0,"m":0.03,"l":-0.01,"h":0.07,"k":0},
{"p":"d","s":"L","t":0.05,"m":0.06,"l":0.01,"h":0.11,"k":0},
{"p":"d","s":"L","t":0.1,"m":0.1,"l":0.04,"h":0.16,"k":0},
{"p":"d","s":"L","t":0.15,"m":0.15,"l":0.07,"h":0.23,"k":0},
{"p":"d","s":"L","t":0.2,"m":0.21,"l":0.11,"h":0.31,"k":0},
{"p":"d","s":"L","t":0.25,"m":0.27,"l":0.15,"h":0.39,"k":1},
{"p":"d","s":"L","t":0.3,"m":0.32,"l":0.18,"h":0.46,"k":1},
{"p":"d","s":"L","t":0.35,"m":0.37,"l":0.21,"h":0.53,"k":1},
{"p":"d","s":"L","t":0.4,"m":0.43,"l":0.25,"h":0.61,"k":1},
{"p":"d","s":"L","t":0.45,"m":0.5,"l":0.3,"h":0.7,"k":1},
{"p":"d","s":"L","t":0.5,"m":0.58,"l":0.36,"h":0.8,"k":1},
{"p":"d","s":"L","t":0.55,"m":0.65,"l":0.41,"h":0.89,"k":1},
{"p":"d","s":"L","t":0.6,"m":0.72,"l":0.47,"h":0.97,"k":1},
{"p":"d","s":"L","t":0.65,"m":0.79,"l":0.53,"h":1.05,"k":1},
{"p":"d","s":"L","t":0.7,"m":0.84,"l":0.57,"h":1.11,"k":1},
{"p":"d","s":"L","t":0.75,"m":0.87,"l":0.59,"h":1.15,"k":1},
{"p":"d","s":"L","t":0.8,"m":0.9,"l":0.62,"h":1.18,"k":1},
{"p":"d","s":"L","t":0.85,"m":0.96,"l":0.67,"h":1.25,"k":1},
{"p":"d","s":"L","t":0.9,"m":1.03,"l":0.73,"h":1.33,"k":1},
{"p":"d","s":"L","t":0.95,"m":1.1,"l":0.8,"h":1.4,"k":1},
{"p":"d","s":"L","t":1,"m":1.17,"l":0.86,"h":1.48,"k":1},
{"p":"d","s":"L","t":1.05,"m":1.22,"l":0.91,"h":1.53,"k":1},
{"p":"d","s":"L","t":1.1,"m":1.24,"l":0.92,"h":1.56,"k":1},
{"p":"d","s":"L","t":1.15,"m":1.21,"l":0.89,"h":1.53,"k":1},
{"p":"d","s":"L","t":1.2,"m":1.25,"l":0.93,"h":1.57,"k":1},
{"p":"d","s":"L","t":1.25,"m":1.3,"l":0.98,"h":1.62,"k":1},
{"p":"d","s":"L","t":1.3,"m":1.33,"l":1.01,"h":1.65,"k":1},
{"p":"d","s":"L","t":1.35,"m":1.32,"l":1,"h":1.64,"k":1},
{"p":"d","s":"L","t":1.4,"m":1.28,"l":0.97,"h":1.59,"k":1},
{"p":"d","s":"L","t":1.45,"m":1.22,"l":0.91,"h":1.53,"k":1},
{"p":"d","s":"L","t":1.5,"m":1.15,"l":0.84,"h":1.46,"k":1},
{"p":"d","s":"L","t":1.55,"m":1.1,"l":0.79,"h":1.41,"k":1},
{"p":"d","s":"L","t":1.6,"m":1.14,"l":0.83,"h":1.45,"k":1},
{"p":"d","s":"L","t":1.65,"m":1.19,"l":0.88,"h":1.5,"k":1},
{"p":"d","s":"L","t":1.7,"m":1.15,"l":0.84,"h":1.46,"k":1},
{"p":"d","s":"L","t":1.75,"m":1,"l":0.69,"h":1.31,"k":1},
{"p":"d","s":"L","t":1.8,"m":0.78,"l":0.46,"h":1.1,"k":1},
{"p":"d","s":"L","t":1.85,"m":0.6,"l":0.27,"h":0.93,"k":1},
{"p":"d","s":"L","t":1.9,"m":0.44,"l":0.1,"h":0.78,"k":0},
{"p":"d","s":"L","t":1.95,"m":0.37,"l":0.02,"h":0.72,"k":0},
{"p":"d","s":"L","t":2,"m":0.35,"l":0,"h":0.7,"k":0},
{"p":"d","s":"L","t":2.05,"m":0.36,"l":0.01,"h":0.71,"k":0},
{"p":"d","s":"L","t":2.1,"m":0.4,"l":0.05,"h":0.75,"k":0},
{"p":"d","s":"L","t":2.15,"m":0.44,"l":0.09,"h":0.79,"k":0},
{"p":"d","s":"L","t":2.2,"m":0.47,"l":0.12,"h":0.82,"k":0},
{"p":"d","s":"L","t":2.25,"m":0.5,"l":0.16,"h":0.84,"k":0},
{"p":"d","s":"L","t":2.3,"m":0.52,"l":0.19,"h":0.85,"k":0},
{"p":"d","s":"L","t":2.35,"m":0.49,"l":0.17,"h":0.81,"k":0},
{"p":"d","s":"L","t":2.4,"m":0.46,"l":0.15,"h":0.77,"k":0},
{"p":"d","s":"L","t":2.45,"m":0.44,"l":0.14,"h":0.74,"k":0},
{"p":"d","s":"L","t":2.5,"m":0.43,"l":0.14,"h":0.72,"k":0},
{"p":"d","s":"L","t":2.55,"m":0.42,"l":0.13,"h":0.71,"k":0},
{"p":"d","s":"L","t":2.6,"m":0.38,"l":0.1,"h":0.66,"k":0},
{"p":"d","s":"L","t":2.65,"m":0.34,"l":0.06,"h":0.62,"k":0},
{"p":"d","s":"L","t":2.7,"m":0.31,"l":0.03,"h":0.59,"k":0},
{"p":"d","s":"L","t":2.75,"m":0.3,"l":0.02,"h":0.58,"k":0},
{"p":"d","s":"L","t":2.8,"m":0.28,"l":0,"h":0.56,"k":0},
{"p":"d","s":"L","t":2.85,"m":0.27,"l":-0.01,"h":0.55,"k":0},
{"p":"d","s":"L","t":2.9,"m":0.27,"l":-0.01,"h":0.55,"k":0},
{"p":"d","s":"L","t":2.95,"m":0.26,"l":-0.02,"h":0.54,"k":0},
{"p":"d","s":"L","t":3,"m":0.25,"l":-0.03,"h":0.53,"k":0},
{"p":"d","s":"G","t":0,"m":0.04,"l":0,"h":0.08,"k":0},
{"p":"d","s":"G","t":0.05,"m":0.06,"l":0.01,"h":0.11,"k":0},
{"p":"d","s":"G","t":0.1,"m":0.08,"l":0.01,"h":0.15,"k":0},
{"p":"d","s":"G","t":0.15,"m":0.09,"l":0,"h":0.18,"k":0},
{"p":"d","s":"G","t":0.2,"m":0.08,"l":-0.03,"h":0.19,"k":0},
{"p":"d","s":"G","t":0.25,"m":0.06,"l":-0.07,"h":0.19,"k":0},
{"p":"d","s":"G","t":0.3,"m":0.04,"l":-0.11,"h":0.19,"k":0},
{"p":"d","s":"G","t":0.35,"m":0.02,"l":-0.15,"h":0.19,"k":0},
{"p":"d","s":"G","t":0.4,"m":-0.01,"l":-0.19,"h":0.17,"k":0},
{"p":"d","s":"G","t":0.45,"m":-0.06,"l":-0.25,"h":0.13,"k":0},
{"p":"d","s":"G","t":0.5,"m":-0.12,"l":-0.32,"h":0.08,"k":0},
{"p":"d","s":"G","t":0.55,"m":-0.15,"l":-0.36,"h":0.06,"k":0},
{"p":"d","s":"G","t":0.6,"m":-0.17,"l":-0.39,"h":0.05,"k":0},
{"p":"d","s":"G","t":0.65,"m":-0.19,"l":-0.42,"h":0.04,"k":0},
{"p":"d","s":"G","t":0.7,"m":-0.24,"l":-0.48,"h":0,"k":0},
{"p":"d","s":"G","t":0.75,"m":-0.3,"l":-0.54,"h":-0.06,"k":0},
{"p":"d","s":"G","t":0.8,"m":-0.37,"l":-0.62,"h":-0.12,"k":0},
{"p":"d","s":"G","t":0.85,"m":-0.47,"l":-0.72,"h":-0.22,"k":0},
{"p":"d","s":"G","t":0.9,"m":-0.58,"l":-0.83,"h":-0.33,"k":0},
{"p":"d","s":"G","t":0.95,"m":-0.6,"l":-0.85,"h":-0.35,"k":0},
{"p":"d","s":"G","t":1,"m":-0.53,"l":-0.78,"h":-0.28,"k":0},
{"p":"d","s":"G","t":1.05,"m":-0.49,"l":-0.74,"h":-0.24,"k":0},
{"p":"d","s":"G","t":1.1,"m":-0.46,"l":-0.71,"h":-0.21,"k":0},
{"p":"d","s":"G","t":1.15,"m":-0.44,"l":-0.69,"h":-0.19,"k":0},
{"p":"d","s":"G","t":1.2,"m":-0.39,"l":-0.64,"h":-0.14,"k":0},
{"p":"d","s":"G","t":1.25,"m":-0.29,"l":-0.54,"h":-0.04,"k":0},
{"p":"d","s":"G","t":1.3,"m":-0.19,"l":-0.44,"h":0.06,"k":0},
{"p":"d","s":"G","t":1.35,"m":-0.11,"l":-0.36,"h":0.14,"k":0},
{"p":"d","s":"G","t":1.4,"m":-0.04,"l":-0.29,"h":0.21,"k":0},
{"p":"d","s":"G","t":1.45,"m":0.02,"l":-0.23,"h":0.27,"k":0},
{"p":"d","s":"G","t":1.5,"m":0.06,"l":-0.19,"h":0.31,"k":0},
{"p":"d","s":"G","t":1.55,"m":0.08,"l":-0.17,"h":0.33,"k":0},
{"p":"d","s":"G","t":1.6,"m":0.1,"l":-0.15,"h":0.35,"k":0},
{"p":"d","s":"G","t":1.65,"m":0.11,"l":-0.14,"h":0.36,"k":0},
{"p":"d","s":"G","t":1.7,"m":0.09,"l":-0.16,"h":0.34,"k":0},
{"p":"d","s":"G","t":1.75,"m":0.04,"l":-0.21,"h":0.29,"k":0},
{"p":"d","s":"G","t":1.8,"m":0.01,"l":-0.24,"h":0.26,"k":0},
{"p":"d","s":"G","t":1.85,"m":0.08,"l":-0.17,"h":0.33,"k":0},
{"p":"d","s":"G","t":1.9,"m":0.18,"l":-0.07,"h":0.43,"k":0},
{"p":"d","s":"G","t":1.95,"m":0.26,"l":0.01,"h":0.51,"k":0},
{"p":"d","s":"G","t":2,"m":0.29,"l":0.04,"h":0.54,"k":0},
{"p":"d","s":"G","t":2.05,"m":0.32,"l":0.07,"h":0.57,"k":0},
{"p":"d","s":"G","t":2.1,"m":0.35,"l":0.1,"h":0.6,"k":0},
{"p":"d","s":"G","t":2.15,"m":0.37,"l":0.12,"h":0.62,"k":0},
{"p":"d","s":"G","t":2.2,"m":0.4,"l":0.15,"h":0.65,"k":0},
{"p":"d","s":"G","t":2.25,"m":0.43,"l":0.18,"h":0.68,"k":0},
{"p":"d","s":"G","t":2.3,"m":0.45,"l":0.2,"h":0.7,"k":0},
{"p":"d","s":"G","t":2.35,"m":0.42,"l":0.17,"h":0.67,"k":0},
{"p":"d","s":"G","t":2.4,"m":0.38,"l":0.13,"h":0.63,"k":0},
{"p":"d","s":"G","t":2.45,"m":0.34,"l":0.09,"h":0.59,"k":0},
{"p":"d","s":"G","t":2.5,"m":0.3,"l":0.05,"h":0.55,"k":0},
{"p":"d","s":"G","t":2.55,"m":0.28,"l":0.03,"h":0.53,"k":0},
{"p":"d","s":"G","t":2.6,"m":0.26,"l":0.01,"h":0.51,"k":0},
{"p":"d","s":"G","t":2.65,"m":0.25,"l":0,"h":0.5,"k":0},
{"p":"d","s":"G","t":2.7,"m":0.26,"l":0.01,"h":0.51,"k":0},
{"p":"d","s":"G","t":2.75,"m":0.28,"l":0.03,"h":0.53,"k":0},
{"p":"d","s":"G","t":2.8,"m":0.28,"l":0.03,"h":0.53,"k":0},
{"p":"d","s":"G","t":2.85,"m":0.27,"l":0.02,"h":0.52,"k":0},
{"p":"d","s":"G","t":2.9,"m":0.26,"l":0.01,"h":0.51,"k":0},
{"p":"d","s":"G","t":2.95,"m":0.25,"l":0,"h":0.5,"k":0},
{"p":"d","s":"G","t":3,"m":0.25,"l":0,"h":0.5,"k":0}
],
"pv": [
{"p":"a","s":"K","t":0,"v":0},{"p":"a","s":"K","t":0.2,"v":0},{"p":"a","s":"K","t":0.22,"v":0.1},{"p":"a","s":"K","t":0.245,"v":0.37},{"p":"a","s":"K","t":0.275,"v":1.4},{"p":"a","s":"K","t":0.3,"v":2.2},{"p":"a","s":"K","t":0.33,"v":2.65},{"p":"a","s":"K","t":0.36,"v":3.0},{"p":"a","s":"K","t":0.38,"v":3.27},{"p":"a","s":"K","t":0.44,"v":3.37},{"p":"a","s":"K","t":0.445,"v":4},{"p":"a","s":"K","t":1.01,"v":4},{"p":"a","s":"K","t":1.015,"v":3.6},{"p":"a","s":"K","t":1.06,"v":3.27},{"p":"a","s":"K","t":1.1,"v":2.86},{"p":"a","s":"K","t":1.15,"v":2.5},{"p":"a","s":"K","t":1.19,"v":2.0},{"p":"a","s":"K","t":1.22,"v":1.5},{"p":"a","s":"K","t":1.26,"v":1.2},{"p":"a","s":"K","t":1.29,"v":0.58},{"p":"a","s":"K","t":1.34,"v":0.17},{"p":"a","s":"K","t":1.38,"v":0},{"p":"a","s":"K","t":3,"v":0},
{"p":"a","s":"Q","t":0,"v":0.08},{"p":"a","s":"Q","t":0.3,"v":0.1},{"p":"a","s":"Q","t":0.6,"v":0.06},{"p":"a","s":"Q","t":0.9,"v":0.12},{"p":"a","s":"Q","t":1.2,"v":0.05},{"p":"a","s":"Q","t":1.4,"v":0.1},{"p":"a","s":"Q","t":1.55,"v":0.18},{"p":"a","s":"Q","t":1.65,"v":0.12},{"p":"a","s":"Q","t":1.8,"v":0.02},{"p":"a","s":"Q","t":2.2,"v":0.03},{"p":"a","s":"Q","t":2.6,"v":0.02},{"p":"a","s":"Q","t":3,"v":0.02},
{"p":"b","s":"K","t":0,"v":4},{"p":"b","s":"K","t":0.42,"v":4},{"p":"b","s":"K","t":0.434,"v":3.4},{"p":"b","s":"K","t":0.446,"v":2.4},{"p":"b","s":"K","t":0.47,"v":1.1},{"p":"b","s":"K","t":0.494,"v":0.3},{"p":"b","s":"K","t":0.53,"v":0.06},{"p":"b","s":"K","t":0.566,"v":0.5},{"p":"b","s":"K","t":0.613,"v":1.33},{"p":"b","s":"K","t":0.66,"v":1.95},{"p":"b","s":"K","t":0.72,"v":2.46},{"p":"b","s":"K","t":0.79,"v":2.7},{"p":"b","s":"K","t":0.86,"v":2.6},{"p":"b","s":"K","t":0.91,"v":2.3},{"p":"b","s":"K","t":0.96,"v":1.95},{"p":"b","s":"K","t":1.01,"v":1.85},{"p":"b","s":"K","t":1.08,"v":1.8},{"p":"b","s":"K","t":1.15,"v":1.75},{"p":"b","s":"K","t":1.17,"v":1.35},{"p":"b","s":"K","t":1.22,"v":1.15},{"p":"b","s":"K","t":1.29,"v":0.82},{"p":"b","s":"K","t":1.39,"v":0.6},{"p":"b","s":"K","t":1.51,"v":0.4},{"p":"b","s":"K","t":1.63,"v":0.2},{"p":"b","s":"K","t":1.75,"v":0.18},{"p":"b","s":"K","t":1.87,"v":0.13},{"p":"b","s":"K","t":1.99,"v":0.06},{"p":"b","s":"K","t":2.1,"v":0.06},{"p":"b","s":"K","t":2.34,"v":0.1},{"p":"b","s":"K","t":2.46,"v":0.15},{"p":"b","s":"K","t":2.53,"v":0.3},{"p":"b","s":"K","t":2.58,"v":0.6},{"p":"b","s":"K","t":2.7,"v":0.7},{"p":"b","s":"K","t":2.82,"v":0.6},{"p":"b","s":"K","t":2.87,"v":0.3},{"p":"b","s":"K","t":2.92,"v":0.15},{"p":"b","s":"K","t":3,"v":0.15},
{"p":"c","s":"L","t":0,"v":0},{"p":"c","s":"L","t":0.12,"v":0.08},{"p":"c","s":"L","t":0.16,"v":0.9},{"p":"c","s":"L","t":0.21,"v":1.1},{"p":"c","s":"L","t":0.247,"v":1.32},{"p":"c","s":"L","t":0.26,"v":2.97},{"p":"c","s":"L","t":0.36,"v":2.97},{"p":"c","s":"L","t":0.41,"v":3.17},{"p":"c","s":"L","t":0.54,"v":3.27},{"p":"c","s":"L","t":0.58,"v":3.27},{"p":"c","s":"L","t":0.585,"v":3.7},{"p":"c","s":"L","t":0.6,"v":3.7},{"p":"c","s":"L","t":0.605,"v":2.97},{"p":"c","s":"L","t":0.87,"v":2.97},{"p":"c","s":"L","t":0.875,"v":3.7},{"p":"c","s":"L","t":0.885,"v":3.07},{"p":"c","s":"L","t":0.98,"v":2.97},{"p":"c","s":"L","t":1.02,"v":3.33},{"p":"c","s":"L","t":1.17,"v":3.38},{"p":"c","s":"L","t":1.2,"v":3.17},{"p":"c","s":"L","t":1.29,"v":2.97},{"p":"c","s":"L","t":1.42,"v":2.97},{"p":"c","s":"L","t":1.425,"v":2.35},{"p":"c","s":"L","t":1.55,"v":2.35},{"p":"c","s":"L","t":1.57,"v":2.56},{"p":"c","s":"L","t":1.77,"v":2.56},{"p":"c","s":"L","t":1.78,"v":1.94},{"p":"c","s":"L","t":1.81,"v":1.32},{"p":"c","s":"L","t":1.85,"v":1.0},{"p":"c","s":"L","t":1.93,"v":0.8},{"p":"c","s":"L","t":1.95,"v":0.5},{"p":"c","s":"L","t":2.07,"v":0.5},{"p":"c","s":"L","t":2.18,"v":0.4},{"p":"c","s":"L","t":2.43,"v":0.29},{"p":"c","s":"L","t":2.5,"v":0.19},{"p":"c","s":"L","t":2.63,"v":0.08},{"p":"c","s":"L","t":2.66,"v":0},{"p":"c","s":"L","t":3,"v":0},
{"p":"c","s":"R","t":0,"v":0},{"p":"c","s":"R","t":0.23,"v":0},{"p":"c","s":"R","t":0.31,"v":0.3},{"p":"c","s":"R","t":0.36,"v":0.5},{"p":"c","s":"R","t":0.46,"v":0.7},{"p":"c","s":"R","t":0.54,"v":1.1},{"p":"c","s":"R","t":0.62,"v":1.42},{"p":"c","s":"R","t":0.66,"v":1.73},{"p":"c","s":"R","t":0.74,"v":2.14},{"p":"c","s":"R","t":0.82,"v":2.56},{"p":"c","s":"R","t":0.87,"v":3.07},{"p":"c","s":"R","t":0.92,"v":3.17},{"p":"c","s":"R","t":1.02,"v":3.27},{"p":"c","s":"R","t":1.09,"v":3.07},{"p":"c","s":"R","t":1.17,"v":2.76},{"p":"c","s":"R","t":1.24,"v":2.56},{"p":"c","s":"R","t":1.32,"v":1.73},{"p":"c","s":"R","t":1.42,"v":1.32},{"p":"c","s":"R","t":1.47,"v":1.0},{"p":"c","s":"R","t":1.52,"v":0.6},{"p":"c","s":"R","t":1.6,"v":0.4},{"p":"c","s":"R","t":1.67,"v":0.4},{"p":"c","s":"R","t":1.8,"v":0.5},{"p":"c","s":"R","t":1.93,"v":0.6},{"p":"c","s":"R","t":2.05,"v":0.8},{"p":"c","s":"R","t":2.13,"v":0.8},{"p":"c","s":"R","t":2.21,"v":0.6},{"p":"c","s":"R","t":2.31,"v":0.45},{"p":"c","s":"R","t":2.43,"v":0.29},{"p":"c","s":"R","t":2.48,"v":0.08},{"p":"c","s":"R","t":2.52,"v":0},{"p":"c","s":"R","t":3,"v":0},
{"p":"c","s":"G","t":0,"v":0.02},{"p":"c","s":"G","t":0.45,"v":0.08},{"p":"c","s":"G","t":0.77,"v":0.05},{"p":"c","s":"G","t":0.82,"v":0.5},{"p":"c","s":"G","t":0.87,"v":0.9},{"p":"c","s":"G","t":0.92,"v":1.0},{"p":"c","s":"G","t":1.0,"v":0.9},{"p":"c","s":"G","t":1.07,"v":0.5},{"p":"c","s":"G","t":1.17,"v":0.08},{"p":"c","s":"G","t":1.2,"v":0},{"p":"c","s":"G","t":3,"v":0},
{"p":"d","s":"L","t":0,"v":0},{"p":"d","s":"L","t":0.07,"v":0},{"p":"d","s":"L","t":0.08,"v":0.25},{"p":"d","s":"L","t":0.17,"v":0.55},{"p":"d","s":"L","t":0.25,"v":0.6},{"p":"d","s":"L","t":0.27,"v":1.48},{"p":"d","s":"L","t":0.37,"v":1.6},{"p":"d","s":"L","t":0.47,"v":1.6},{"p":"d","s":"L","t":0.55,"v":1.68},{"p":"d","s":"L","t":0.67,"v":1.78},{"p":"d","s":"L","t":0.8,"v":1.78},{"p":"d","s":"L","t":0.87,"v":1.6},{"p":"d","s":"L","t":0.92,"v":1.37},{"p":"d","s":"L","t":0.95,"v":1.6},{"p":"d","s":"L","t":0.97,"v":2.4},{"p":"d","s":"L","t":1.05,"v":2.7},{"p":"d","s":"L","t":1.18,"v":2.8},{"p":"d","s":"L","t":1.3,"v":2.7},{"p":"d","s":"L","t":1.35,"v":2.8},{"p":"d","s":"L","t":1.43,"v":2.5},{"p":"d","s":"L","t":1.53,"v":1.9},{"p":"d","s":"L","t":1.63,"v":1.9},{"p":"d","s":"L","t":1.73,"v":1.68},{"p":"d","s":"L","t":1.78,"v":1.37},{"p":"d","s":"L","t":1.83,"v":0.76},{"p":"d","s":"L","t":1.88,"v":0.25},{"p":"d","s":"L","t":1.93,"v":0.14},{"p":"d","s":"L","t":2.2,"v":0.2},{"p":"d","s":"L","t":2.4,"v":0.1},{"p":"d","s":"L","t":2.6,"v":0.18},{"p":"d","s":"L","t":2.8,"v":0.12},{"p":"d","s":"L","t":3,"v":0.14},
{"p":"d","s":"R","t":0,"v":0},{"p":"d","s":"R","t":0.25,"v":0},{"p":"d","s":"R","t":0.35,"v":0.55},{"p":"d","s":"R","t":0.47,"v":0.86},{"p":"d","s":"R","t":0.62,"v":1.07},{"p":"d","s":"R","t":0.75,"v":1.27},{"p":"d","s":"R","t":0.82,"v":1.58},{"p":"d","s":"R","t":0.87,"v":2.3},{"p":"d","s":"R","t":0.97,"v":2.35},{"p":"d","s":"R","t":1.05,"v":2.2},{"p":"d","s":"R","t":1.15,"v":2.25},{"p":"d","s":"R","t":1.25,"v":2.3},{"p":"d","s":"R","t":1.3,"v":1.78},{"p":"d","s":"R","t":1.38,"v":1.37},{"p":"d","s":"R","t":1.48,"v":1.17},{"p":"d","s":"R","t":1.55,"v":0.45},{"p":"d","s":"R","t":1.68,"v":0.35},{"p":"d","s":"R","t":1.8,"v":0.45},{"p":"d","s":"R","t":1.93,"v":0.55},{"p":"d","s":"R","t":2.06,"v":0.55},{"p":"d","s":"R","t":2.18,"v":0.45},{"p":"d","s":"R","t":2.28,"v":0.25},{"p":"d","s":"R","t":2.33,"v":0},{"p":"d","s":"R","t":3,"v":0},
{"p":"d","s":"G","t":0,"v":0},{"p":"d","s":"G","t":0.77,"v":0.02},{"p":"d","s":"G","t":0.82,"v":0.66},{"p":"d","s":"G","t":0.92,"v":1.07},{"p":"d","s":"G","t":1.02,"v":0.97},{"p":"d","s":"G","t":1.12,"v":0.55},{"p":"d","s":"G","t":1.22,"v":0.14},{"p":"d","s":"G","t":1.32,"v":0},{"p":"d","s":"G","t":3,"v":0}
],
"lbl": [
{"p":"a","s":"tB","x":-1.07,"t":2.53,"txt":"Baseline"},
{"p":"a","s":"tP","x":-1.07,"t":2.71,"txt":"Posture"},
{"p":"c","s":"tL","x":-1.2,"t":2.45,"txt":"Left"},
{"p":"c","s":"tR","x":-1.2,"t":2.64,"txt":"Right"},
{"p":"c","s":"tG","x":-1.2,"t":2.83,"txt":"Bilateral"},
{"p":"d","s":"tL","x":-1.33,"t":2.45,"txt":"Left"},
{"p":"d","s":"tR","x":-1.33,"t":2.64,"txt":"Right"},
{"p":"d","s":"tG","x":-1.33,"t":2.83,"txt":"Bilateral"}
]
},
"hconcat": [
{
"width": 265, "height": 419,
"title": {"text": "a", "anchor": "start", "frame": "group", "dx": -28, "offset": -17, "fontSize": 25, "baseline": "alphabetic"},
"resolve": {"scale": {"x": "independent"}, "axis": {"x": "independent"}},
"layer": [
{"layer": [
{"data": {"name": "main"}, "transform": [{"filter": "datum.p == 'a'"}],
 "mark": {"type": "area", "orient": "horizontal", "fillOpacity": 0.7, "strokeWidth": 0.7},
 "encoding": {
  "y": {"field": "t", "type": "quantitative", "scale": {"domain": [0, 3], "reverse": true, "nice": false, "zero": false},
        "axis": {"orient": "left", "values": [0, 0.5, 1, 1.5, 2, 2.5, 3], "labelExpr": "datum.value % 1 == 0 ? '' + datum.value : ''", "title": "Time (s)", "titleFontSize": 25, "titlePadding": 6, "labelFontSize": 22, "tickSize": -4, "labelPadding": 11, "domainColor": "#222", "tickColor": "#222"}},
  "x": {"field": "l", "type": "quantitative", "scale": {"domain": [-2, 2], "range": [0, 200], "nice": false, "zero": false},
        "axis": {"orient": "top", "values": [-2, -1, 0, 1, 2], "labelExpr": "'' + datum.value", "title": "Horizontal bias (˚)", "titleFontSize": 25, "titlePadding": 4, "labelFontSize": 19, "labelBaseline": "alphabetic", "tickSize": -4, "labelPadding": 8, "domainColor": "#777", "tickColor": "#555"}},
  "x2": {"field": "h"},
  "fill": {"field": "s", "type": "nominal", "scale": {"domain": ["B","P","C","L","R","G"], "range": ["#b5b5b5","#f4c08c","#c4c4c4","#de6f76","#8aa8d6","#88bf88"]}},
  "stroke": {"field": "s", "type": "nominal", "scale": {"domain": ["B","P","C","L","R","G"], "range": ["#b0b0b0","#e8913a","#c4c4c4","#d8434a","#6e93cc","#5a9f5a"]}}
 }},
{"data": {"name": "main"}, "transform": [{"filter": "datum.p == 'a'"}],
 "mark": {"type": "line", "strokeWidth": 1.5},
 "encoding": {
  "y": {"field": "t", "type": "quantitative"},
  "x": {"field": "m", "type": "quantitative"},
  "color": {"field": "s", "type": "nominal", "scale": {"domain": ["B","P","C","L","R","G","K","Q","tB","tP","tL","tR","tG"], "range": ["#7f7f7f","#e8913a","#7f7f7f","#c8202a","#4a7cc0","#3a8a3a","#1a1a1a","#c0662a","#8c8c8c","#eb9f4f","#cc2229","#5b87c8","#4a934a"]}},
  "order": {"field": "t", "type": "quantitative"}
 }},
{"data": {"name": "main"}, "transform": [{"filter": "datum.p == 'a' && datum.k == 1"}],
 "mark": {"type": "line", "strokeWidth": 5.5},
 "encoding": {
  "y": {"field": "t", "type": "quantitative"},
  "x": {"field": "m", "type": "quantitative"},
  "color": {"field": "s", "type": "nominal"},
  "order": {"field": "t", "type": "quantitative"}
 }},
{"data": {"values": [{}]}, "mark": {"type": "rule", "strokeDash": [9, 7], "color": "#111", "strokeWidth": 1.3},
 "encoding": {"x": {"datum": 0}, "y": {"datum": 0}, "y2": {"datum": 3}}},
{"data": {"values": [{}]}, "mark": {"type": "rule", "strokeDash": [6, 5], "color": "#111", "strokeWidth": 2},
 "encoding": {"x": {"datum": -1.84}, "x2": {"datum": 2}, "y": {"datum": 0.167}}},
{"data": {"values": [{}]}, "mark": {"type": "point", "shape": "circle", "filled": false, "size": 45, "strokeWidth": 2.6, "color": "#111", "opacity": 1},
 "encoding": {"x": {"datum": -1.86}, "y": {"datum": 0.167}}},
{"data": {"name": "lbl"}, "transform": [{"filter": "datum.p == 'a'"}],
 "mark": {"type": "text", "fontWeight": "bold", "fontSize": 16, "align": "center", "baseline": "middle"},
 "encoding": {"x": {"field": "x", "type": "quantitative"}, "y": {"field": "t", "type": "quantitative"}, "text": {"field": "txt"}, "color": {"field": "s", "type": "nominal"}}}
]},
{"layer": [
{"data": {"values": [{}]}, "mark": {"type": "rule", "strokeDash": [9, 7], "color": "#111", "strokeWidth": 1.2},
 "encoding": {"x": {"datum": 1.3, "scale": {"domain": [0, 4], "range": [200, 265], "nice": false, "zero": false},
   "axis": {"orient": "bottom", "values": [0, 1, 2, 3, 4], "labelExpr": "datum.value == 0 ? '10⁰' : '-' + datum.value", "labelFontSize": {"condition": {"test": "datum.value == 0", "value": 21}, "value": 12}, "labelAlign": {"condition": {"test": "datum.value == 0", "value": "right"}, "value": "center"}, "labelBaseline": "top", "tickSize": -4, "labelPadding": 10, "title": "p-value", "titleFontSize": 25, "titleAnchor": "end", "titlePadding": -4, "domainColor": "#222", "tickColor": "#222"}},
   "y": {"datum": 0}, "y2": {"datum": 3}}},
{"data": {"name": "pv"}, "transform": [{"filter": "datum.p == 'a'"}],
 "mark": {"type": "line", "strokeWidth": 2.2},
 "encoding": {"x": {"field": "v", "type": "quantitative"}, "y": {"field": "t", "type": "quantitative"}, "color": {"field": "s", "type": "nominal"}, "order": {"field": "t", "type": "quantitative"}}}
]}
]
},
{
"width": 265, "height": 419,
"title": {"text": "b", "anchor": "start", "frame": "group", "dx": -29, "offset": -17, "fontSize": 25, "baseline": "alphabetic"},
"resolve": {"scale": {"x": "independent"}, "axis": {"x": "independent"}},
"layer": [
{"layer": [
{"data": {"name": "main"}, "transform": [{"filter": "datum.p == 'b'"}],
 "mark": {"type": "area", "orient": "horizontal", "fillOpacity": 0.8, "strokeWidth": 0.5},
 "encoding": {
  "y": {"field": "t", "type": "quantitative", "scale": {"domain": [0, 3], "reverse": true, "nice": false, "zero": false},
        "axis": {"orient": "left", "values": [0, 0.5, 1, 1.5, 2, 2.5, 3], "labelExpr": "datum.value % 1 == 0 ? '' + datum.value : ''", "title": null, "labelFontSize": 22, "tickSize": -4, "labelPadding": 11, "domainColor": "#222", "tickColor": "#222"}},
  "x": {"field": "l", "type": "quantitative", "scale": {"domain": [-1, 1], "range": [0, 200], "nice": false, "zero": false},
        "axis": {"orient": "top", "values": [-1, 0, 1], "labelExpr": "'' + datum.value", "title": "Position covariate", "titleFontSize": 25, "titlePadding": 4, "labelFontSize": 19, "labelBaseline": "alphabetic", "tickSize": -4, "labelPadding": 8, "domainColor": "#222", "tickColor": "#222"}},
  "x2": {"field": "h"},
  "fill": {"field": "s", "type": "nominal", "scale": {"domain": ["B","P","C","L","R","G"], "range": ["#b5b5b5","#f4c08c","#c4c4c4","#de6f76","#8aa8d6","#88bf88"]}},
  "stroke": {"field": "s", "type": "nominal", "scale": {"domain": ["B","P","C","L","R","G"], "range": ["#b0b0b0","#e8913a","#c4c4c4","#d8434a","#6e93cc","#5a9f5a"]}}
 }},
{"data": {"name": "main"}, "transform": [{"filter": "datum.p == 'b'"}],
 "mark": {"type": "line", "strokeWidth": 1.2},
 "encoding": {
  "y": {"field": "t", "type": "quantitative"},
  "x": {"field": "m", "type": "quantitative"},
  "color": {"field": "s", "type": "nominal", "scale": {"domain": ["B","P","C","L","R","G","K","Q","tB","tP","tL","tR","tG"], "range": ["#7f7f7f","#e8913a","#7f7f7f","#c8202a","#4a7cc0","#3a8a3a","#1a1a1a","#c0662a","#8c8c8c","#eb9f4f","#cc2229","#5b87c8","#4a934a"]}},
  "order": {"field": "t", "type": "quantitative"}
 }},
{"data": {"name": "main"}, "transform": [{"filter": "datum.p == 'b' && datum.k == 1"}],
 "mark": {"type": "line", "strokeWidth": 5.5},
 "encoding": {
  "y": {"field": "t", "type": "quantitative"},
  "x": {"field": "m", "type": "quantitative"},
  "color": {"field": "s", "type": "nominal"},
  "order": {"field": "t", "type": "quantitative"}
 }},
{"data": {"values": [{}]}, "mark": {"type": "rule", "strokeDash": [9, 7], "color": "#111", "strokeWidth": 1.3},
 "encoding": {"x": {"datum": 0}, "y": {"datum": 0}, "y2": {"datum": 3}}},
{"data": {"values": [{}]}, "mark": {"type": "rule", "strokeDash": [6, 5], "color": "#111", "strokeWidth": 2},
 "encoding": {"x": {"datum": -0.92}, "x2": {"datum": 1}, "y": {"datum": 0.167}}},
{"data": {"values": [{}]}, "mark": {"type": "point", "shape": "circle", "filled": false, "size": 45, "strokeWidth": 2.6, "color": "#111", "opacity": 1},
 "encoding": {"x": {"datum": -0.93}, "y": {"datum": 0.167}}}
]},
{"layer": [
{"data": {"values": [{}]}, "mark": {"type": "rule", "strokeDash": [9, 7], "color": "#aaa", "strokeWidth": 1.2},
 "encoding": {"x": {"datum": 1.3, "scale": {"domain": [0, 4], "range": [200, 265], "nice": false, "zero": false},
   "axis": {"orient": "bottom", "values": [0, 1, 2, 3, 4], "labelExpr": "datum.value == 0 ? '10⁰' : '-' + datum.value", "labelFontSize": {"condition": {"test": "datum.value == 0", "value": 21}, "value": 12}, "labelAlign": {"condition": {"test": "datum.value == 0", "value": "right"}, "value": "center"}, "labelBaseline": "top", "tickSize": -4, "labelPadding": 10, "title": "p-value", "titleFontSize": 25, "titleAnchor": "end", "titlePadding": -4, "domainColor": "#222", "tickColor": "#222"}},
   "y": {"datum": 0}, "y2": {"datum": 3}}},
{"data": {"name": "pv"}, "transform": [{"filter": "datum.p == 'b'"}],
 "mark": {"type": "line", "strokeWidth": 2.2},
 "encoding": {"x": {"field": "v", "type": "quantitative"}, "y": {"field": "t", "type": "quantitative"}, "color": {"field": "s", "type": "nominal"}, "order": {"field": "t", "type": "quantitative"}}}
]}
]
},
{
"width": 265, "height": 419,
"title": {"text": "c", "anchor": "start", "frame": "group", "dx": -47, "offset": -17, "fontSize": 25, "baseline": "alphabetic"},
"resolve": {"scale": {"x": "independent"}, "axis": {"x": "independent"}},
"layer": [
{"layer": [
{"data": {"name": "main"}, "transform": [{"filter": "datum.p == 'c'"}],
 "mark": {"type": "area", "orient": "horizontal", "fillOpacity": 0.7, "strokeWidth": 0.7},
 "encoding": {
  "y": {"field": "t", "type": "quantitative", "scale": {"domain": [0, 3], "reverse": true, "nice": false, "zero": false},
        "axis": {"orient": "left", "values": [0, 0.5, 1, 1.5, 2, 2.5, 3], "labelExpr": "datum.value % 1 == 0 ? '' + datum.value : ''", "title": null, "labelFontSize": 22, "tickSize": -4, "labelPadding": 11, "domainColor": "#222", "tickColor": "#222"}},
  "x": {"field": "l", "type": "quantitative", "scale": {"domain": [-2, 2], "range": [0, 200], "nice": false, "zero": false},
        "axis": {"orient": "top", "values": [-2, -1, 0, 1, 2], "labelExpr": "'' + datum.value", "title": "Horizontal bias (˚)", "titleFontSize": 25, "titlePadding": 4, "labelFontSize": 19, "labelBaseline": "alphabetic", "tickSize": -4, "labelPadding": 8, "domainColor": "#777", "tickColor": "#555"}},
  "x2": {"field": "h"},
  "fill": {"field": "s", "type": "nominal", "scale": {"domain": ["B","P","C","L","R","G"], "range": ["#b5b5b5","#f4c08c","#c4c4c4","#de6f76","#8aa8d6","#88bf88"]}},
  "stroke": {"field": "s", "type": "nominal", "scale": {"domain": ["B","P","C","L","R","G"], "range": ["#b0b0b0","#e8913a","#c4c4c4","#d8434a","#6e93cc","#5a9f5a"]}}
 }},
{"data": {"name": "main"}, "transform": [{"filter": "datum.p == 'c'"}],
 "mark": {"type": "line", "strokeWidth": 1.5},
 "encoding": {
  "y": {"field": "t", "type": "quantitative"},
  "x": {"field": "m", "type": "quantitative"},
  "color": {"field": "s", "type": "nominal", "scale": {"domain": ["B","P","C","L","R","G","K","Q","tB","tP","tL","tR","tG"], "range": ["#7f7f7f","#e8913a","#7f7f7f","#c8202a","#4a7cc0","#3a8a3a","#1a1a1a","#c0662a","#8c8c8c","#eb9f4f","#cc2229","#5b87c8","#4a934a"]}},
  "order": {"field": "t", "type": "quantitative"}
 }},
{"data": {"name": "main"}, "transform": [{"filter": "datum.p == 'c' && datum.k == 1"}],
 "mark": {"type": "line", "strokeWidth": 5},
 "encoding": {
  "y": {"field": "t", "type": "quantitative"},
  "x": {"field": "m", "type": "quantitative"},
  "color": {"field": "s", "type": "nominal"},
  "order": {"field": "t", "type": "quantitative"}
 }},
{"data": {"values": [{}]}, "mark": {"type": "rule", "strokeDash": [9, 7], "color": "#111", "strokeWidth": 1.3},
 "encoding": {"x": {"datum": 0}, "y": {"datum": 0}, "y2": {"datum": 3}}},
{"data": {"values": [{}]}, "mark": {"type": "rule", "strokeDash": [6, 5], "color": "#111", "strokeWidth": 2},
 "encoding": {"x": {"datum": -1.84}, "x2": {"datum": 2}, "y": {"datum": 0.167}}},
{"data": {"values": [{}]}, "mark": {"type": "point", "shape": "circle", "filled": false, "size": 45, "strokeWidth": 2.6, "color": "#111", "opacity": 1},
 "encoding": {"x": {"datum": -1.86}, "y": {"datum": 0.167}}},
{"data": {"name": "lbl"}, "transform": [{"filter": "datum.p == 'c'"}],
 "mark": {"type": "text", "fontWeight": "bold", "fontSize": 16, "align": "center", "baseline": "middle"},
 "encoding": {"x": {"field": "x", "type": "quantitative"}, "y": {"field": "t", "type": "quantitative"}, "text": {"field": "txt"}, "color": {"field": "s", "type": "nominal"}}}
]},
{"layer": [
{"data": {"values": [{}]}, "mark": {"type": "rule", "strokeDash": [9, 7], "color": "#111", "strokeWidth": 1.2},
 "encoding": {"x": {"datum": 1.3, "scale": {"domain": [0, 4], "range": [200, 265], "nice": false, "zero": false},
   "axis": {"orient": "bottom", "values": [0, 1, 2, 3, 4], "labelExpr": "datum.value == 0 ? '10⁰' : '-' + datum.value", "labelFontSize": {"condition": {"test": "datum.value == 0", "value": 21}, "value": 12}, "labelAlign": {"condition": {"test": "datum.value == 0", "value": "right"}, "value": "center"}, "labelBaseline": "top", "tickSize": -4, "labelPadding": 10, "title": "p-value", "titleFontSize": 25, "titleAnchor": "end", "titlePadding": -4, "domainColor": "#222", "tickColor": "#222"}},
   "y": {"datum": 0}, "y2": {"datum": 3}}},
{"data": {"name": "pv"}, "transform": [{"filter": "datum.p == 'c'"}],
 "mark": {"type": "line", "strokeWidth": 2.2},
 "encoding": {"x": {"field": "v", "type": "quantitative"}, "y": {"field": "t", "type": "quantitative"}, "color": {"field": "s", "type": "nominal"}, "order": {"field": "t", "type": "quantitative"}}}
]}
]
},
{
"width": 265, "height": 419,
"title": {"text": "d", "anchor": "start", "frame": "group", "dx": -47, "offset": -17, "fontSize": 25, "baseline": "alphabetic"},
"resolve": {"scale": {"x": "independent"}, "axis": {"x": "independent"}},
"layer": [
{"layer": [
{"data": {"name": "main"}, "transform": [{"filter": "datum.p == 'd'"}],
 "mark": {"type": "area", "orient": "horizontal", "fillOpacity": 0.7, "strokeWidth": 0.7},
 "encoding": {
  "y": {"field": "t", "type": "quantitative", "scale": {"domain": [0, 3], "reverse": true, "nice": false, "zero": false},
        "axis": {"orient": "left", "values": [0, 0.5, 1, 1.5, 2, 2.5, 3], "labelExpr": "datum.value % 1 == 0 ? '' + datum.value : ''", "title": null, "labelFontSize": 22, "tickSize": -4, "labelPadding": 11, "domainColor": "#222", "tickColor": "#222"}},
  "x": {"field": "l", "type": "quantitative", "scale": {"domain": [-2, 2], "range": [0, 200], "nice": false, "zero": false},
        "axis": {"orient": "top", "values": [-2, -1, 0, 1, 2], "labelExpr": "'' + datum.value", "title": "Horizontal bias (˚)", "titleFontSize": 25, "titlePadding": 4, "labelFontSize": 19, "labelBaseline": "alphabetic", "tickSize": -4, "labelPadding": 8, "domainColor": "#777", "tickColor": "#555"}},
  "x2": {"field": "h"},
  "fill": {"field": "s", "type": "nominal", "scale": {"domain": ["B","P","C","L","R","G"], "range": ["#b5b5b5","#f4c08c","#c4c4c4","#de6f76","#8aa8d6","#88bf88"]}},
  "stroke": {"field": "s", "type": "nominal", "scale": {"domain": ["B","P","C","L","R","G"], "range": ["#b0b0b0","#e8913a","#c4c4c4","#d8434a","#6e93cc","#5a9f5a"]}}
 }},
{"data": {"name": "main"}, "transform": [{"filter": "datum.p == 'd'"}],
 "mark": {"type": "line", "strokeWidth": 1.5},
 "encoding": {
  "y": {"field": "t", "type": "quantitative"},
  "x": {"field": "m", "type": "quantitative"},
  "color": {"field": "s", "type": "nominal", "scale": {"domain": ["B","P","C","L","R","G","K","Q","tB","tP","tL","tR","tG"], "range": ["#7f7f7f","#e8913a","#7f7f7f","#c8202a","#4a7cc0","#3a8a3a","#1a1a1a","#c0662a","#8c8c8c","#eb9f4f","#cc2229","#5b87c8","#4a934a"]}},
  "order": {"field": "t", "type": "quantitative"}
 }},
{"data": {"name": "main"}, "transform": [{"filter": "datum.p == 'd' && datum.k == 1"}],
 "mark": {"type": "line", "strokeWidth": 5},
 "encoding": {
  "y": {"field": "t", "type": "quantitative"},
  "x": {"field": "m", "type": "quantitative"},
  "color": {"field": "s", "type": "nominal"},
  "order": {"field": "t", "type": "quantitative"}
 }},
{"data": {"values": [{}]}, "mark": {"type": "rule", "strokeDash": [9, 7], "color": "#111", "strokeWidth": 1.3},
 "encoding": {"x": {"datum": 0}, "y": {"datum": 0}, "y2": {"datum": 3}}},
{"data": {"values": [{}]}, "mark": {"type": "rule", "strokeDash": [6, 5], "color": "#111", "strokeWidth": 2},
 "encoding": {"x": {"datum": -1.84}, "x2": {"datum": 2}, "y": {"datum": 0.167}}},
{"data": {"values": [{}]}, "mark": {"type": "point", "shape": "circle", "filled": false, "size": 45, "strokeWidth": 2.6, "color": "#111", "opacity": 1},
 "encoding": {"x": {"datum": -1.86}, "y": {"datum": 0.167}}},
{"data": {"name": "lbl"}, "transform": [{"filter": "datum.p == 'd'"}],
 "mark": {"type": "text", "fontWeight": "bold", "fontSize": 16, "align": "center", "baseline": "middle"},
 "encoding": {"x": {"field": "x", "type": "quantitative"}, "y": {"field": "t", "type": "quantitative"}, "text": {"field": "txt"}, "color": {"field": "s", "type": "nominal"}}}
]},
{"layer": [
{"data": {"values": [{}]}, "mark": {"type": "rule", "strokeDash": [9, 7], "color": "#111", "strokeWidth": 1.2},
 "encoding": {"x": {"datum": 1.3, "scale": {"domain": [0, 4], "range": [200, 265], "nice": false, "zero": false},
   "axis": {"orient": "bottom", "values": [0, 1, 2, 3, 4], "labelExpr": "datum.value == 0 ? '10⁰' : '-' + datum.value", "labelFontSize": {"condition": {"test": "datum.value == 0", "value": 21}, "value": 12}, "labelAlign": {"condition": {"test": "datum.value == 0", "value": "right"}, "value": "center"}, "labelBaseline": "top", "tickSize": -4, "labelPadding": 10, "title": "p-value", "titleFontSize": 25, "titleAnchor": "end", "titlePadding": -4, "domainColor": "#222", "tickColor": "#222"}},
   "y": {"datum": 0}, "y2": {"datum": 3}}},
{"data": {"name": "pv"}, "transform": [{"filter": "datum.p == 'd'"}],
 "mark": {"type": "line", "strokeWidth": 2.2},
 "encoding": {"x": {"field": "v", "type": "quantitative"}, "y": {"field": "t", "type": "quantitative"}, "color": {"field": "s", "type": "nominal"}, "order": {"field": "t", "type": "quantitative"}}}
]}
]
}
]
}
